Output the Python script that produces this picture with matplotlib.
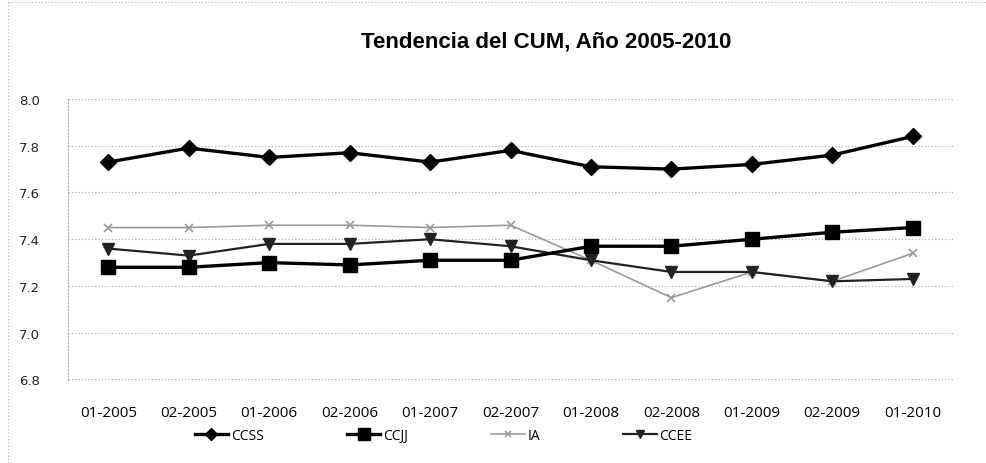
import matplotlib.pyplot as plt
from matplotlib.lines import Line2D

# periodos (ciclo-año)
periodos = ['01-2005', '02-2005', '01-2006', '02-2006', '01-2007', '02-2007',
            '01-2008', '02-2008', '01-2009', '02-2009', '01-2010']

# CUM promedio por facultad
ccss = [7.73, 7.79, 7.75, 7.77, 7.73, 7.78, 7.71, 7.70, 7.72, 7.76, 7.84]
ccjj = [7.28, 7.28, 7.30, 7.29, 7.31, 7.31, 7.37, 7.37, 7.40, 7.43, 7.45]
ia = [7.45, 7.45, 7.46, 7.46, 7.45, 7.46, 7.31, 7.15, 7.26, 7.22, 7.34]
ccee = [7.36, 7.33, 7.38, 7.38, 7.40, 7.37, 7.31, 7.26, 7.26, 7.22, 7.23]

yticks = [6.8, 7.0, 7.2, 7.4, 7.6, 7.8, 8.0]

fig = plt.figure(figsize=(9.86, 4.64), dpi=100)
ax = fig.add_axes([0.069, 0.179, 0.8975, 0.6055])

x = range(len(periodos))
ax.plot(x, ccss, color='black', lw=2.4, marker='D', ms=8, label='CCSS', zorder=5)
ax.plot(x, ccjj, color='black', lw=2.4, marker='s', ms=10, label='CCJJ', zorder=5)
ax.plot(x, ia, color='#9a9a9a', lw=1.2, marker='x', ms=6, mew=1.2, label='IA', zorder=4)
ax.plot(x, ccee, color='#222222', lw=1.6, marker='v', ms=8, label='CCEE', zorder=4)

ax.set_xlim(-0.5, len(periodos) - 0.5)
ax.set_ylim(6.798, 8.0)
ax.set_yticks(yticks)
ax.set_yticklabels(['%.1f' % v for v in yticks], fontsize=9.5, color='#222222')
ax.set_xticks(list(x))
ax.set_xticklabels(periodos, fontsize=11, family='Open Sans')
ax.tick_params(axis='both', length=0)
ax.tick_params(axis='y', pad=20)
ax.tick_params(axis='x', pad=18)

ax.grid(axis='y', color='#a8a8a8', ls=(0, (1, 2)), lw=0.8)
for side in ['top', 'right', 'bottom']:
    ax.spines[side].set_visible(False)
ax.spines['left'].set_color('#a8a8a8')
ax.spines['left'].set_linestyle((0, (1, 2)))
ax.spines['left'].set_linewidth(0.8)

fig.text(0.554, 0.909, 'Tendencia del CUM, Año 2005-2010', ha='center', va='center',
         fontsize=16, fontweight='bold', family='Liberation Sans')

leg = fig.legend(loc='center', bbox_to_anchor=(0.45, 0.06), ncol=4, frameon=False,
                 prop={'family': 'Open Sans', 'size': 10},
                 handlelength=2.4, handletextpad=0.2, columnspacing=6.0, markerscale=0.8)

# borde punteado del área del gráfico
fig.add_artist(Line2D([0.008, 0.008], [0.0, 0.993], transform=fig.transFigure,
                      color='#b0b0b0', lw=0.8, ls=(0, (1, 2))))
fig.add_artist(Line2D([0.008, 1.0], [0.993, 0.993], transform=fig.transFigure,
                      color='#b0b0b0', lw=0.8, ls=(0, (1, 2))))

fig.savefig('out.png', dpi=100)
